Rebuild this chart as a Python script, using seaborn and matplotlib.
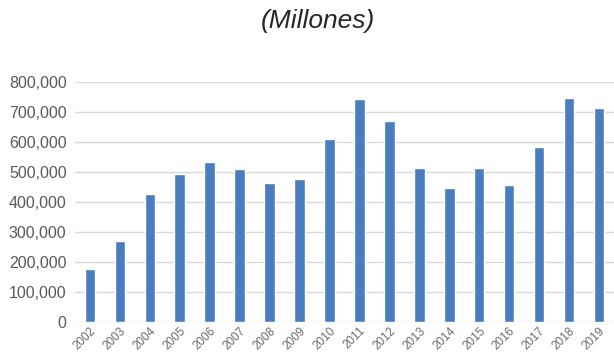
# Gráfico de barras: valores anuales (Millones)

import pandas as pd
from matplotlib import pyplot as plt
import matplotlib.ticker as mticker
import seaborn as sns

anios = ['2002', '2003', '2004', '2005', '2006', '2007', '2008', '2009', '2010',
         '2011', '2012', '2013', '2014', '2015', '2016', '2017', '2018', '2019']
valores = [175000, 269000, 425000, 494000, 534000, 511000, 462000, 477000, 609000,
           744000, 669000, 513000, 448000, 513000, 455000, 584000, 747000, 712000]
yticks = [0, 100000, 200000, 300000, 400000, 500000, 600000, 700000, 800000]

df = pd.DataFrame({'Año': anios, 'Valor': valores})

sns.set_style('white')
plt.rcParams['font.family'] = ['Liberation Sans', 'DejaVu Sans']

fig = plt.figure(figsize=(6.14, 3.58), dpi=100)
ax = fig.add_axes([0.122, 0.101, 0.878, 0.670])

sns.barplot(data=df, x='Año', y='Valor', color='#4a7dbf', width=0.35,
            saturation=1, ax=ax, zorder=3)

ax.set_ylim(0, 800000)
ax.set_yticks(yticks)
ax.yaxis.set_major_formatter(mticker.FuncFormatter(lambda v, p: f'{int(v):,}'))
ax.grid(axis='y', color='#d9d9d9', linewidth=1, zorder=0)
ax.set_axisbelow(True)
for s in ax.spines.values():
    s.set_visible(False)
ax.tick_params(axis='y', length=0, labelsize=11.5, labelcolor='#595959', pad=6)
ax.tick_params(axis='x', length=0, labelsize=8.5, labelcolor='#6b6b6b', pad=2)
plt.setp(ax.get_xticklabels(), rotation=45, ha='right', rotation_mode='anchor')
ax.set_xlabel('')
ax.set_ylabel('')

fig.text(0.517, 0.94, '(Millones)', ha='center', va='center', fontsize=19,
         style='italic', color='#262626')

plt.savefig('out.png', dpi=100)
